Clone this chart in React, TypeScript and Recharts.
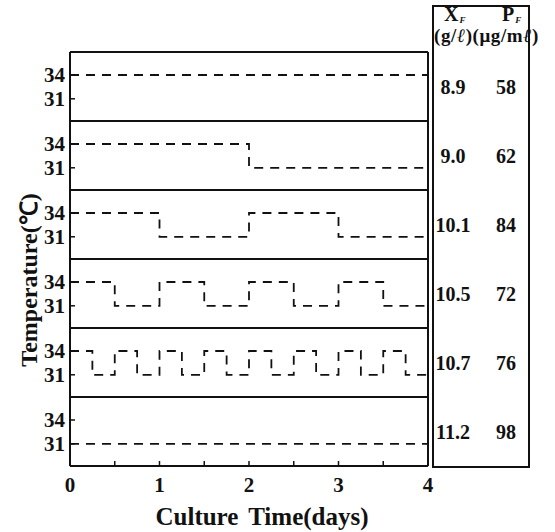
import React from 'react';
import { LineChart, Line, XAxis, YAxis, ReferenceLine } from 'recharts';

// tick positions
const dayTicks = [0, 0.5, 1, 1.5, 2, 2.5, 3, 3.5, 4];
const dayLabels = ['0', '', '1', '', '2', '', '3', '', '4'];
const tempTicks = [31, 34];

// switching times (days) and the temperature held from each time on
const panelTimes: number[][] = [
  [0, 4],
  [0, 2, 4],
  [0, 1, 2, 3, 4],
  [0, 0.5, 1, 1.5, 2, 2.5, 3, 3.5, 4],
  [0, 0.25, 0.5, 0.75, 1, 1.25, 1.5, 1.75, 2, 2.25, 2.5, 2.75, 3, 3.25, 3.5, 3.75, 4],
  [0, 4],
];
const panelTemps: number[][] = [
  [34, 34],
  [34, 31, 31],
  [34, 31, 34, 31, 31],
  [34, 31, 34, 31, 34, 31, 34, 31, 31],
  [34, 31, 34, 31, 34, 31, 34, 31, 34, 31, 34, 31, 34, 31, 34, 31, 31],
  [31, 31],
];

// final cell mass and product concentration for each profile
const xfValues = ['8.9', '9.0', '10.1', '10.5', '10.7', '11.2'];
const pfValues = ['58', '62', '84', '72', '76', '98'];

const FONT = '"Liberation Serif", "Times New Roman", serif';
const INK = '#111';
const PANEL_TOP = 52;
const PANEL_H = 69;
const PAD = 2;
const AXIS_H = 60;
const T_MIN = 28.2;
const T_MAX = 36.9;

const tickFont = { fontFamily: FONT, fontWeight: 700, fontSize: 21, fill: INK };

function Panel({ index }: { index: number }) {
  const data = panelTimes[index].map((t, i) => ({ t, temp: panelTemps[index][i] }));
  const last = index === panelTimes.length - 1;
  const height = PANEL_H + PAD + (last ? AXIS_H : PAD);

  return (
    <div style={{ position: 'absolute', left: 0, top: PANEL_TOP + index * PANEL_H - PAD }}>
      <LineChart
        width={450}
        height={height}
        data={data}
        margin={{ top: PAD, right: 22, bottom: last ? 0 : PAD, left: 0 }}
      >
        <XAxis
          dataKey="t"
          type="number"
          domain={[0, 4]}
          ticks={dayTicks}
          interval={0}
          height={last ? AXIS_H : 0}
          stroke={INK}
          axisLine={false}
          tick={last ? tickFont : false}
          tickLine={last ? { stroke: INK, strokeWidth: 1.5 } : false}
          tickSize={-5}
          tickMargin={16}
          tickFormatter={(v: number) => dayLabels[dayTicks.indexOf(v)]}
        />
        <YAxis
          type="number"
          domain={[T_MIN, T_MAX]}
          ticks={tempTicks}
          interval={0}
          width={70}
          stroke={INK}
          axisLine={false}
          tick={tickFont}
          tickLine={{ stroke: INK, strokeWidth: 1.5 }}
          tickSize={-5}
          tickMargin={10}
        />
        {/* panel frame */}
        <ReferenceLine y={T_MAX} stroke={INK} strokeWidth={2} ifOverflow="extendDomain" />
        <ReferenceLine y={T_MIN} stroke={INK} strokeWidth={2} ifOverflow="extendDomain" />
        <ReferenceLine x={0} stroke={INK} strokeWidth={2} ifOverflow="extendDomain" />
        <ReferenceLine x={4} stroke={INK} strokeWidth={2} ifOverflow="extendDomain" />
        <Line
          dataKey="temp"
          type="stepAfter"
          stroke={INK}
          strokeWidth={1.8}
          strokeDasharray="9 7"
          dot={false}
          isAnimationActive={false}
        />
      </LineChart>
    </div>
  );
}

const cellText = {
  position: 'absolute' as const,
  width: 60,
  textAlign: 'center' as const,
  fontWeight: 700,
  fontSize: 20,
  lineHeight: '22px',
};

export default function App() {
  return (
    <div
      style={{
        position: 'absolute',
        left: 0,
        top: 0,
        width: 555,
        height: 532,
        background: '#fff',
        fontFamily: FONT,
        color: INK,
      }}
    >
      {panelTimes.map((_, i) => (
        <Panel key={i} index={i} />
      ))}

      {/* results table on the right */}
      <div
        style={{
          position: 'absolute',
          left: 432,
          top: 5,
          width: 94,
          height: 459,
          border: `2px solid ${INK}`,
        }}
      />
      <div style={{ position: 'absolute', left: 444, top: 3, fontWeight: 700, fontSize: 20, lineHeight: '22px' }}>
        X
        <span style={{ fontSize: 9, fontStyle: 'italic', position: 'relative', top: 2, marginLeft: 1 }}>F</span>
      </div>
      <div style={{ position: 'absolute', left: 502, top: 3, fontWeight: 700, fontSize: 20, lineHeight: '22px' }}>
        P
        <span style={{ fontSize: 9, fontStyle: 'italic', position: 'relative', top: 2, marginLeft: 1 }}>F</span>
      </div>
      <div
        style={{
          position: 'absolute',
          left: 434,
          top: 25,
          fontWeight: 700,
          fontSize: 19,
          lineHeight: '22px',
          letterSpacing: 0.6,
          whiteSpace: 'nowrap',
        }}
      >
        (g/<i>ℓ</i>)(μg/m<i>ℓ</i>)
      </div>
      {xfValues.map((v, i) => (
        <div key={v} style={{ ...cellText, left: 423, top: PANEL_TOP + i * PANEL_H + 24 }}>
          {v}
        </div>
      ))}
      {pfValues.map((v, i) => (
        <div key={v} style={{ ...cellText, left: 476, top: PANEL_TOP + i * PANEL_H + 24 }}>
          {v}
        </div>
      ))}

      {/* axis titles */}
      <div
        style={{
          position: 'absolute',
          left: 27,
          top: 280,
          transform: 'translate(-50%, -50%) rotate(-90deg)',
          fontWeight: 700,
          fontSize: 24,
          whiteSpace: 'nowrap',
        }}
      >
        Temperature(℃)
      </div>
      <div
        style={{
          position: 'absolute',
          left: 262,
          top: 503,
          transform: 'translateX(-50%)',
          fontWeight: 700,
          fontSize: 25,
          lineHeight: '28px',
          whiteSpace: 'nowrap',
          wordSpacing: 4,
        }}
      >
        Culture Time(days)
      </div>
    </div>
  );
}
